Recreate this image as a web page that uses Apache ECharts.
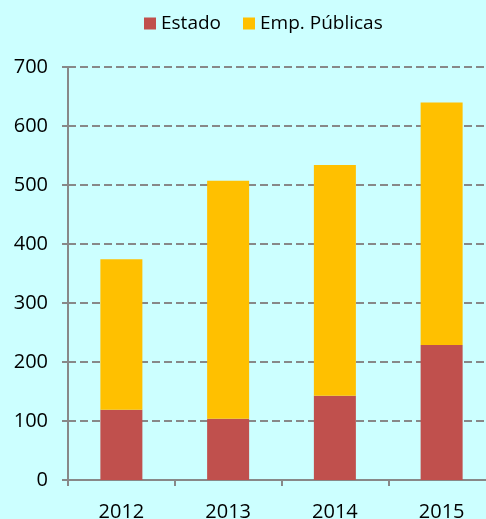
<!DOCTYPE html>
<html><head><meta charset="utf-8">
<script src="https://cdn.jsdelivr.net/npm/echarts@6/dist/echarts.min.js"></script>
<style>html,body{margin:0;padding:0;background:#CCFFFF;}#c{width:486px;height:519px;}</style>
</head><body><div id="c"></div>
<script>
const categories = ['2012','2013','2014','2015'];
const estado = [119, 104, 143, 229];
const empPublicas = [255, 403, 391, 411];
const yTicks = [0,100,200,300,400,500,600,700];

const chart = echarts.init(document.getElementById('c'), null, {renderer:'canvas'});
const font = '"Open Sans", sans-serif';
chart.setOption({
  backgroundColor: '#CCFFFF',
  animation: false,
  legend: {
    top: 9, left: 139,
    itemWidth: 12, itemHeight: 12, itemGap: 22,
    icon: 'rect',
    textStyle: {fontFamily: font, fontSize: 19, color: '#000'},
    data: ['Estado','Emp. Públicas']
  },
  grid: {left: 68, top: 67, bottom: 39, right: -9, containLabel: false, outerBoundsMode: 'none'},
  xAxis: {
    type: 'category', data: categories,
    axisLine: {lineStyle: {color: '#888', width: 2}},
    axisTick: {show: true, length: 6, lineStyle: {color: '#888', width: 2}},
    axisLabel: {fontFamily: font, fontSize: 20, color: '#000', margin: 22}
  },
  yAxis: {
    type: 'value', min: yTicks[0], max: yTicks[yTicks.length-1], interval: 100,
    axisLine: {show: true, lineStyle: {color: '#888', width: 2}},
    axisTick: {show: true, length: 6, lineStyle: {color: '#888', width: 2}},
    axisLabel: {fontFamily: font, fontSize: 20, color: '#000', margin: 20},
    splitLine: {lineStyle: {color: '#888', width: 2, type: [8, 4]}}
  },
  series: [
    {name: 'Estado', type: 'bar', stack: 't', data: estado, barWidth: 42, itemStyle: {color: '#C0504D'}},
    {name: 'Emp. Públicas', type: 'bar', stack: 't', data: empPublicas, barWidth: 42, itemStyle: {color: '#FFC000'}}
  ]
});
</script></body></html>
